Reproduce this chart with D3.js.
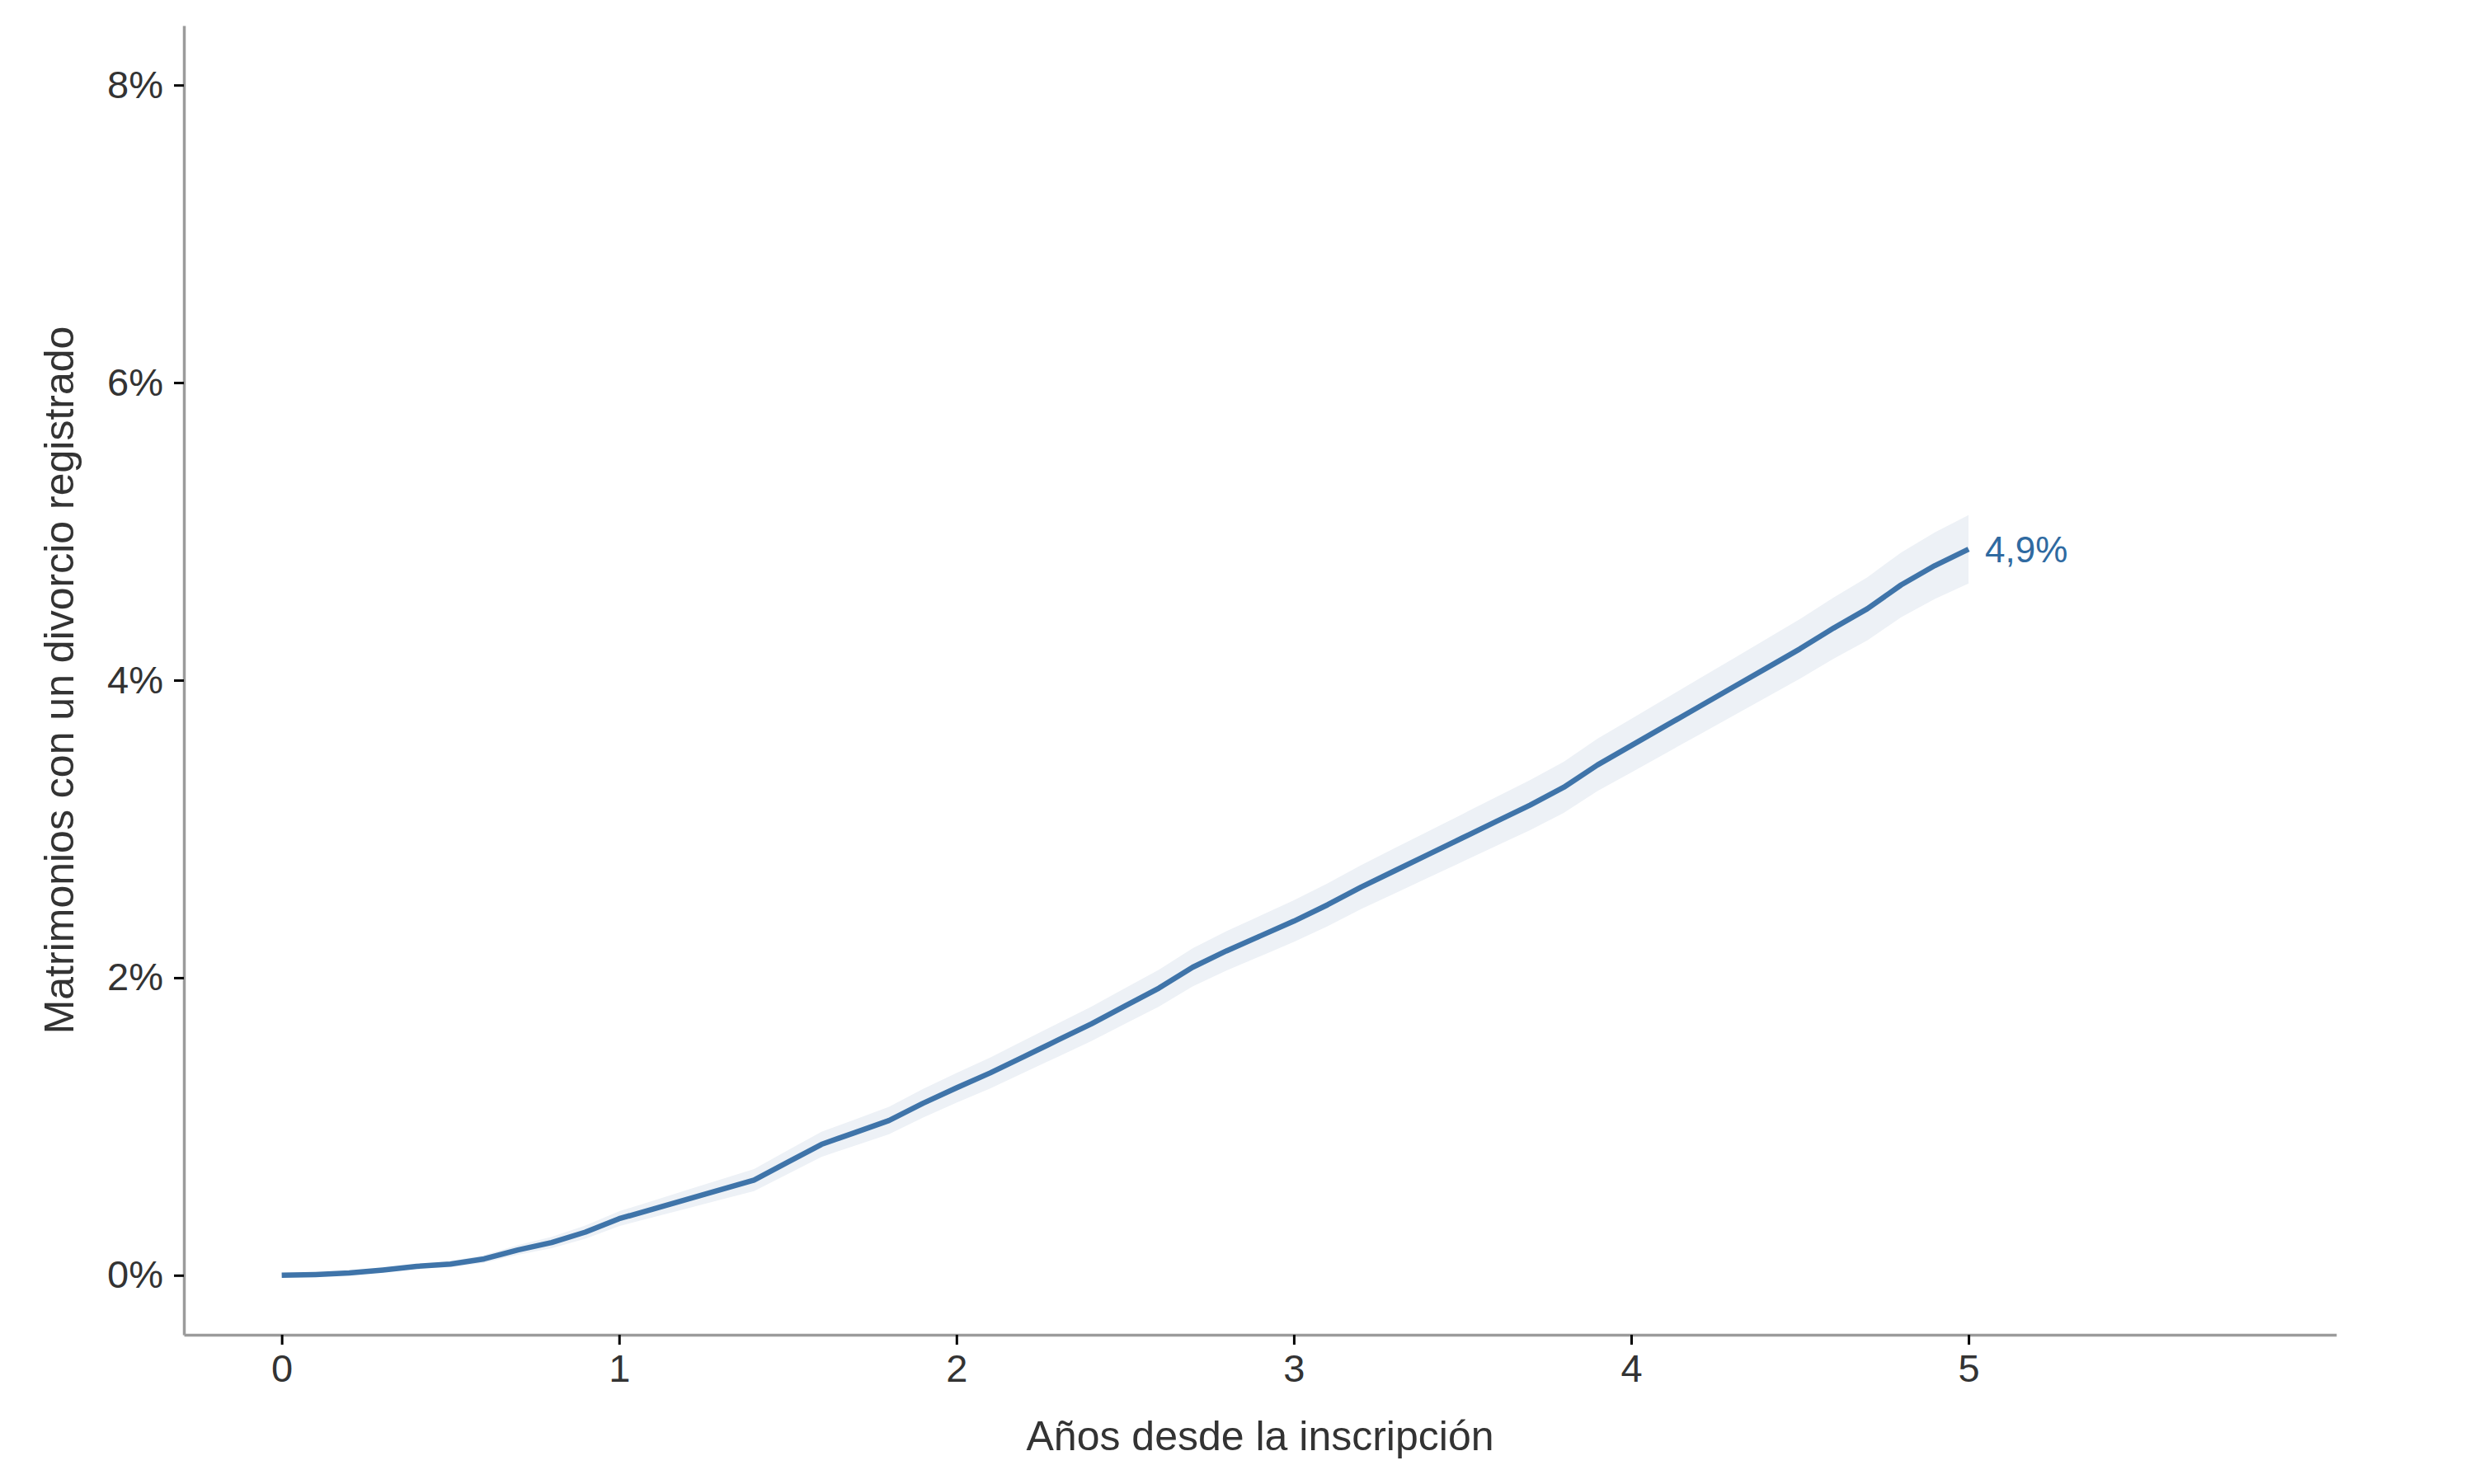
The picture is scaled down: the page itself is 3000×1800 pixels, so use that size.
<!DOCTYPE html>
<html>
<head>
<meta charset="utf-8">
<script src="https://cdn.jsdelivr.net/npm/d3@7"></script>
<style>
  body { margin: 0; background: #fff; }
  svg { font-family: "Liberation Sans", Arial, sans-serif; }
</style>
</head>
<body>
<div id="chart"></div>
<script>
// Datos (años y % acumulado con divorcio)
const years = [0, 0.1, 0.2, 0.3, 0.4, 0.5, 0.6, 0.7, 0.8, 0.9,
  1.0, 1.1, 1.2, 1.3, 1.4, 1.5, 1.6, 1.7, 1.8, 1.9,
  2.0, 2.1, 2.2, 2.3, 2.4, 2.5, 2.6, 2.7, 2.8, 2.9,
  3.0, 3.1, 3.2, 3.3, 3.4, 3.5, 3.6, 3.7, 3.8, 3.9,
  4.0, 4.1, 4.2, 4.3, 4.4, 4.5, 4.6, 4.7, 4.8, 4.9, 5.0];
const divorcio = [0, 0.005, 0.015, 0.035, 0.06, 0.075, 0.11, 0.17, 0.22, 0.29,
  0.38, 0.445, 0.51, 0.575, 0.64, 0.76, 0.88, 0.96, 1.04, 1.155,
  1.26, 1.36, 1.47, 1.58, 1.69, 1.81, 1.93, 2.07, 2.18, 2.28,
  2.38, 2.49, 2.61, 2.72, 2.83, 2.94, 3.05, 3.16, 3.28, 3.43,
  3.56, 3.69, 3.82, 3.95, 4.08, 4.21, 4.35, 4.48, 4.64, 4.77, 4.88];
const inferior = [0, 0.002, 0.009, 0.025, 0.045, 0.055, 0.084, 0.138, 0.182, 0.246,
  0.33, 0.389, 0.448, 0.507, 0.566, 0.68, 0.796, 0.872, 0.948, 1.059,
  1.16, 1.256, 1.362, 1.468, 1.574, 1.69, 1.806, 1.942, 2.048, 2.144,
  2.24, 2.346, 2.462, 2.568, 2.674, 2.78, 2.886, 2.992, 3.108, 3.254,
  3.38, 3.506, 3.632, 3.758, 3.884, 4.01, 4.144, 4.268, 4.422, 4.546, 4.65];
const superior = [0, 0.008, 0.021, 0.045, 0.075, 0.095, 0.136, 0.202, 0.258, 0.334,
  0.43, 0.501, 0.572, 0.643, 0.714, 0.84, 0.964, 1.048, 1.132, 1.251,
  1.36, 1.464, 1.578, 1.692, 1.806, 1.93, 2.054, 2.198, 2.312, 2.416,
  2.52, 2.634, 2.758, 2.872, 2.986, 3.10, 3.214, 3.328, 3.452, 3.606,
  3.74, 3.874, 4.008, 4.142, 4.276, 4.41, 4.556, 4.692, 4.858, 4.994, 5.11];
const xTicks = [0, 1, 2, 3, 4, 5];
const yTicks = [0, 2, 4, 6, 8];
const etiquetaFinal = "4,9%";

const W = 3000, H = 1800;
const panel = { left: 223, right: 2833, top: 31, bottom: 1619 };

const data = years.map((t, i) => ({ t: t, v: divorcio[i], lo: inferior[i], hi: superior[i] }));

const svg = d3.select("#chart").append("svg")
  .attr("width", W).attr("height", H);

// escalas con la expansión de 5% de ggplot (x: 0-5.8, y: 0-8)
const x = d3.scaleLinear().domain([-0.29, 6.09]).range([panel.left, panel.right]);
const y = d3.scaleLinear().domain([-0.4, 8.4]).range([panel.bottom, panel.top]);

// banda de confianza
svg.append("path")
  .datum(data)
  .attr("fill", "#edf1f6")
  .attr("d", d3.area()
    .x(d => x(d.t))
    .y0(d => y(d.lo))
    .y1(d => y(d.hi)));

// curva
svg.append("path")
  .datum(data)
  .attr("fill", "none")
  .attr("stroke", "#3f74a9")
  .attr("stroke-width", 6.5)
  .attr("stroke-linejoin", "round")
  .attr("d", d3.line().x(d => x(d.t)).y(d => y(d.v)));

// etiqueta del valor final
const ultimo = data[data.length - 1];
svg.append("text")
  .attr("x", x(ultimo.t) + 20)
  .attr("y", y(ultimo.v))
  .attr("dy", "0.35em")
  .attr("font-size", 44)
  .attr("fill", "#2f6aa1")
  .text(etiquetaFinal);

// ejes
const xAxis = svg.append("g")
  .attr("transform", "translate(0," + panel.bottom + ")")
  .call(d3.axisBottom(x).tickValues(xTicks).tickFormat(d3.format("d"))
    .tickSize(12).tickSizeOuter(0).tickPadding(12));

const yAxis = svg.append("g")
  .attr("transform", "translate(" + panel.left + ",0)")
  .call(d3.axisLeft(y).tickValues(yTicks).tickFormat(d => d + "%")
    .tickSize(12).tickSizeOuter(0).tickPadding(13));

[xAxis, yAxis].forEach(g => {
  g.select(".domain").attr("stroke", "#9b9b9b").attr("stroke-width", 3.5);
  g.selectAll(".tick line").attr("stroke", "#000").attr("stroke-width", 3);
  g.selectAll(".tick text")
    .attr("font-size", 47)
    .attr("fill", "#333")
    .attr("font-family", "Liberation Sans, Arial, sans-serif");
});

// títulos de los ejes
svg.append("text")
  .attr("x", (panel.left + panel.right) / 2)
  .attr("y", 1741)
  .attr("dy", "0.35em")
  .attr("text-anchor", "middle")
  .attr("font-size", 50)
  .attr("fill", "#333")
  .text("Años desde la inscripción");

svg.append("text")
  .attr("transform", "translate(71," + (panel.top + panel.bottom) / 2 + ") rotate(-90)")
  .attr("dy", "0.35em")
  .attr("text-anchor", "middle")
  .attr("font-size", 50)
  .attr("fill", "#333")
  .text("Matrimonios con un divorcio registrado");
</script>
</body>
</html>
